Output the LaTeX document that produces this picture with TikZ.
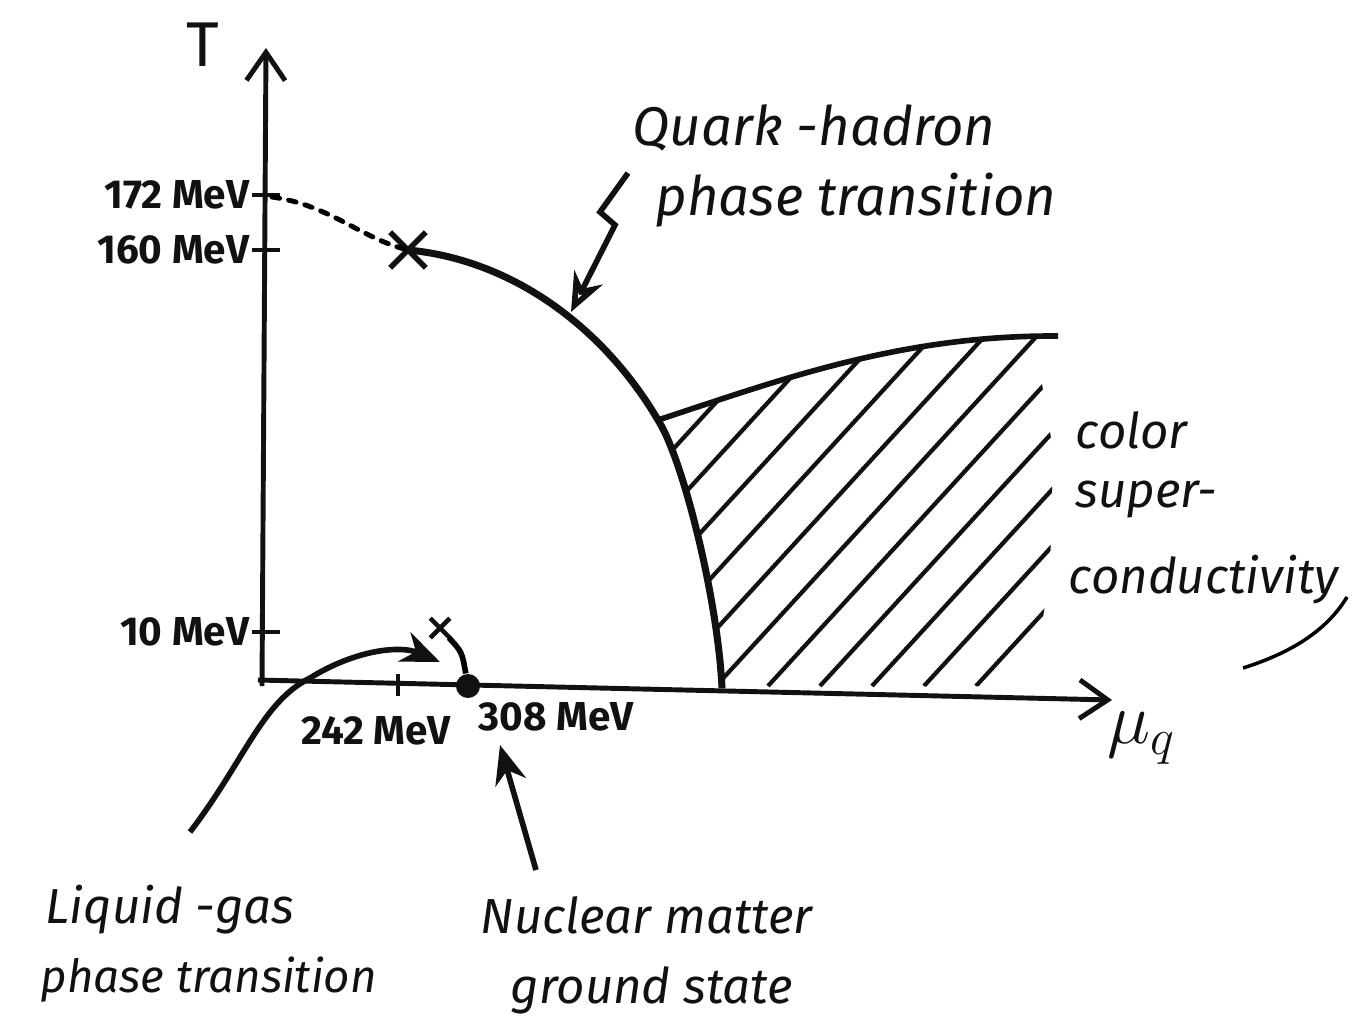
\documentclass[tikz,border=0pt]{standalone}
\usepackage{fontspec}
\setmainfont{Fira Sans}
\usetikzlibrary{arrows.meta,positioning,calc,shapes.misc}
\definecolor{ink}{HTML}{111111}
\tikzset{
  every node/.style={text=ink},
  hand/.style={font=\fontsize{15.5}{19}\selectfont\itshape, align=left, inner sep=0pt},
  handsm/.style={hand, font=\fontsize{14}{17}\selectfont\itshape},
  ticklabel/.style={font=\fontsize{11.5}{13}\selectfont\bfseries, inner sep=0pt},
  axis/.style={draw=ink, line width=1.4pt, -{Straight Barb[length=8pt, width=11pt, line width=1.4pt]}},
  tick/.style={draw=ink, line width=1.4pt},
  phase/.style={draw=ink, line width=2pt},
  hatch/.style={draw=ink, line width=1.2pt},
  arr/.style={draw=ink, line width=1.6pt, -{Stealth[length=11pt, width=9pt]}},
  crit/.style={cross out, draw=ink, line width=1.6pt, inner sep=0pt},
}
\begin{document}
\begin{tikzpicture}[x=0.01cm, y=-0.01cm]
  \useasboundingbox (0,0) rectangle (1363,1020);

  % axes
  \coordinate (o) at (258,680);
  \coordinate (tTop) at (266,48);
  \coordinate (muEnd) at (1112,700);
  \draw[axis] (o) -- (muEnd);
  \draw[axis] (262,686) -- (tTop);
  \node[font=\fontsize{18}{20}\selectfont] (tLab) at (203,45) {T};
  \node[font=\fontsize{20}{24}\selectfont] (muLab) at (1142,738) {$\mu_q$};

  % T ticks
  \foreach \y/\t/\n in {195/172 MeV/a, 250/160 MeV/b, 632/10 MeV/c} {
    \draw[tick] (252,\y) -- (280,\y);
    \node[ticklabel, anchor=east] (tk\n) at (250,\y) {\t};
  }

  % mu ticks
  \draw[tick] (398,674) -- (398,696);
  \node[ticklabel] (mu242) at (376,731) {242 MeV};
  \node[circle, fill=ink, minimum size=0.24cm, inner sep=0pt] (nm) at (468,686) {};
  \node[ticklabel] (mu308) at (556,717) {308 MeV};

  % --- quark-hadron line -------------------------------------------------
  \node[crit, minimum size=0.3cm] (cp) at (408,250) {};
  \coordinate (qhKnee) at (658,420);
  \coordinate (qhFoot) at (722,688);
  \draw[line width=1.4pt, dash pattern=on 2.2pt off 2.6pt, line cap=round]
    (272,197) .. controls (330,205) and (360,238) .. (cp.center);
  \draw[phase] (cp.center) .. controls (515,260) and (605,330) .. (qhKnee)
    .. controls (683,459) and (718,600) .. (qhFoot);

  % --- color superconductivity region ------------------------------------
  \draw[phase, line width=1.6pt] (qhKnee) .. controls (780,380) and (900,335) .. (1058,336);
  \begin{scope}
    \clip (qhKnee) .. controls (683,459) and (718,600) .. (qhFoot) -- (1033,686)
      -- (1050,570) -- (1053,450) -- (1040,372) -- (1058,336)
      .. controls (900,335) and (780,380) .. (qhKnee) -- cycle;
    \foreach \x in {456,508,...,1006} {
      \draw[hatch] (\x,686) -- ++(440,-480);
    }
  \end{scope}

  % labels
  \node[hand, anchor=west] (qh1) at (632,128) {Quark -hadron};
  \node[hand, anchor=west] (qh2) at (655,200) {phase transition};
  \draw[arr, -{Stealth[open, length=11pt, width=9pt]}] (628,173) -- (600,212)
    -- (615,225) -- (571,312);

  \node[handsm, anchor=west] (cs1) at (1075,430) {color};
  \node[handsm, anchor=west] (cs2) at (1075,500) {super-};
  \node[handsm, anchor=west] (cs3) at (1068,580) {conductivity};
  \draw[line width=1pt] (1347,597) .. controls (1330,625) and (1300,650) .. (1243,668);

  % --- liquid-gas ---------------------------------------------------------
  \node[crit, minimum size=0.15cm, line width=1.3pt] (lg) at (440,628) {};
  \draw[line width=1.6pt] (nm) .. controls (462,652) .. (lg);
  \draw[arr] (190,832) .. controls (245,760) and (262,702) .. (310,678)
    .. controls (355,650) and (400,645) .. (440,662);
  \node[handsm, anchor=west] (lg1) at (45,910) {Liquid -gas};
  \node[handsm, anchor=west, font=\fontsize{13}{16}\selectfont\itshape] (lg2) at (40,980) {phase transition};

  % --- nuclear matter -----------------------------------------------------
  \coordinate (nmTail) at (536,870);
  \draw[arr] (nmTail) -- (500,745);
  \node[handsm, anchor=west] (nm1) at (480,915) {Nuclear matter};
  \node[handsm, anchor=west] (nm2) at (510,990) {ground state};
\end{tikzpicture}
\end{document}
